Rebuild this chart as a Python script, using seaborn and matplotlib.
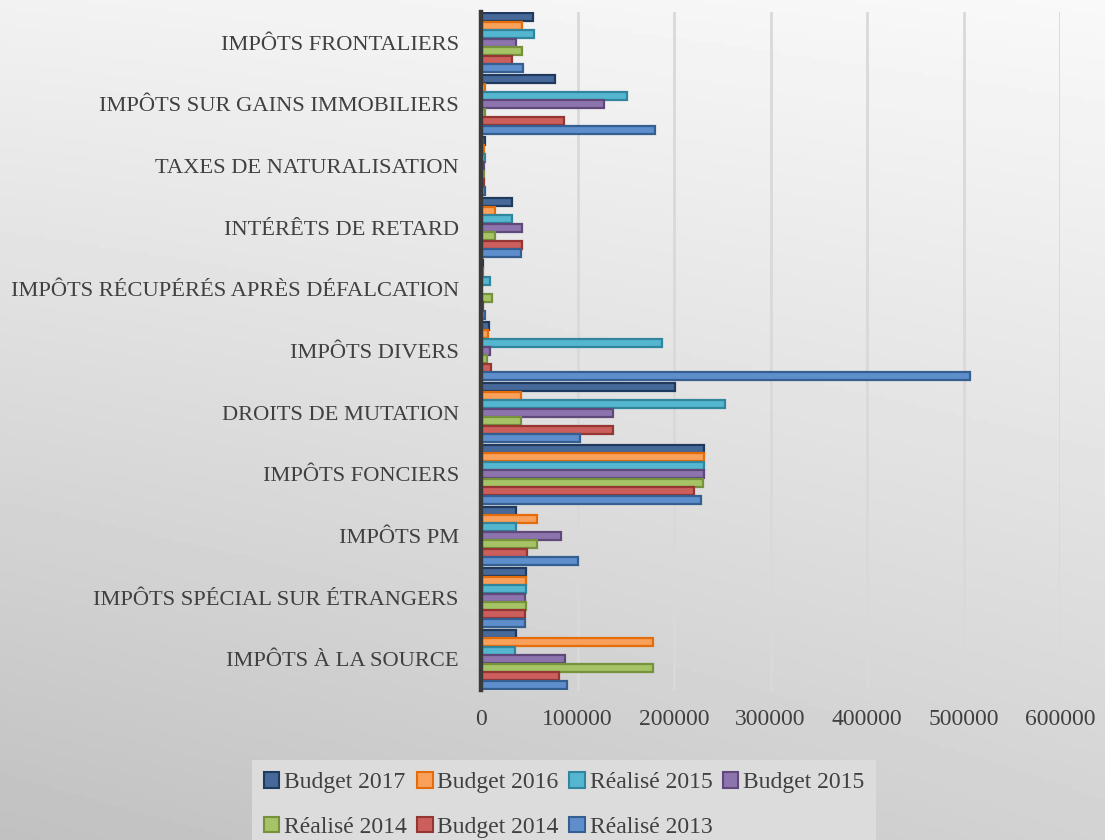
import numpy as np
import matplotlib.pyplot as plt
import pandas as pd
import seaborn as sns
from matplotlib.patches import Patch

categories = ['IMPÔTS FRONTALIERS', 'IMPÔTS SUR GAINS IMMOBILIERS', 'TAXES DE NATURALISATION',
              'INTÉRÊTS DE RETARD', 'IMPÔTS RÉCUPÉRÉS APRÈS DÉFALCATION', 'IMPÔTS DIVERS',
              'DROITS DE MUTATION', 'IMPÔTS FONCIERS', 'IMPÔTS PM',
              'IMPÔTS SPÉCIAL SUR ÉTRANGERS', 'IMPÔTS À LA SOURCE']
series = ['Budget 2017', 'Budget 2016', 'Réalisé 2015', 'Budget 2015',
          'Réalisé 2014', 'Budget 2014', 'Réalisé 2013']

budget_2017 = [54000, 77000, 4000, 32000, 2500, 8000, 201000, 231000, 36000, 47000, 36000]
budget_2016 = [42000, 4000, 3500, 14000, 2000, 7000, 41000, 231000, 58000, 47000, 178000]
realise_2015 = [55000, 151000, 4000, 32000, 9000, 188000, 253000, 231000, 36000, 47000, 35000]
budget_2015 = [36000, 127000, 3500, 42000, 300, 9000, 137000, 231000, 83000, 46000, 87000]
realise_2014 = [42000, 4000, 3500, 14000, 11000, 6000, 41000, 230000, 58000, 47000, 178000]
budget_2014 = [32000, 86000, 3500, 42000, 2500, 10000, 137000, 221000, 48000, 46000, 81000]
realise_2013 = [44000, 180000, 4000, 41000, 4500, 507000, 103000, 228000, 101000, 46000, 89000]

x_ticks = [0, 100000, 200000, 300000, 400000, 500000, 600000]

fills = ['#46699a', '#f9a05a', '#55b6cf', '#8d74ae', '#a6c465', '#cc5f5c', '#5e8fcc']
edges = ['#1f3a5c', '#e46c0a', '#31859c', '#5f497a', '#76923c', '#943634', '#365f91']

df = pd.DataFrame({
    'categorie': categories * len(series),
    'serie': np.repeat(series, len(categories)),
    'valeur': budget_2017 + budget_2016 + realise_2015 + budget_2015
              + realise_2014 + budget_2014 + realise_2013,
})

sns.set_style('white')
plt.rcParams['font.family'] = ['Liberation Serif', 'DejaVu Serif']
txt = '#404040'

fig = plt.figure(figsize=(11.05, 8.4), dpi=100)

# fond dégradé
bg = fig.add_axes([0, 0, 1, 1])
yy, xx = np.mgrid[0:1:200j, 0:1:200j]
grad = 0.975 - 0.15 * yy - 0.07 * (1 - xx) * (0.4 + 0.6 * yy)
bg.imshow(grad, cmap='gray', vmin=0, vmax=1, aspect='auto', extent=(0, 1, 1, 0))
bg.axis('off')

ax = fig.add_axes([481 / 1105, 1 - 690 / 840, 579 / 1105, 678 / 840])
ax.set_facecolor('none')
sns.barplot(data=df, y='categorie', x='valeur', hue='serie', hue_order=series,
            order=categories, palette=fills, saturation=1, width=0.96, gap=0.06,
            ax=ax, legend=False)
for cont, ec in zip(ax.containers, edges):
    for bar in cont:
        bar.set_edgecolor(ec)
        bar.set_linewidth(1.6)

ax.set_xlim(0, 600000)
ax.set_xticks(x_ticks)
ax.set_xticklabels([str(t) for t in x_ticks])
ax.set_xlabel('')
ax.set_ylabel('')
ax.xaxis.grid(True, color='#d9d9d9', lw=2)
ax.set_axisbelow(True)
ax.tick_params(axis='y', length=0, pad=16, labelsize=16.2, labelcolor=txt)
ax.tick_params(axis='x', length=0, pad=14, labelsize=17, labelcolor=txt)
for s in ['top', 'right', 'bottom']:
    ax.spines[s].set_visible(False)
ax.spines['left'].set_color('#3a3a3a')
ax.spines['left'].set_linewidth(3.2)

handles = [Patch(facecolor=f, edgecolor=e, lw=1.5, label=s) for s, f, e in zip(series, fills, edges)]
order = [0, 4, 1, 5, 2, 6, 3]
leg = fig.legend([handles[i] for i in order], [series[i] for i in order],
                 loc='upper center', bbox_to_anchor=(564 / 1105, 1 - 760 / 840), ncol=4,
                 fontsize=17, frameon=True, fancybox=False, handlelength=0.65,
                 handleheight=0.65, handletextpad=0.2, columnspacing=0.45,
                 labelspacing=1.0, borderpad=0.5, borderaxespad=0)
leg.get_frame().set_facecolor('#dcdcdc')
leg.get_frame().set_edgecolor('none')
leg.get_frame().set_alpha(1)
for t in leg.get_texts():
    t.set_color(txt)

fig.savefig('out.png', dpi=100)
